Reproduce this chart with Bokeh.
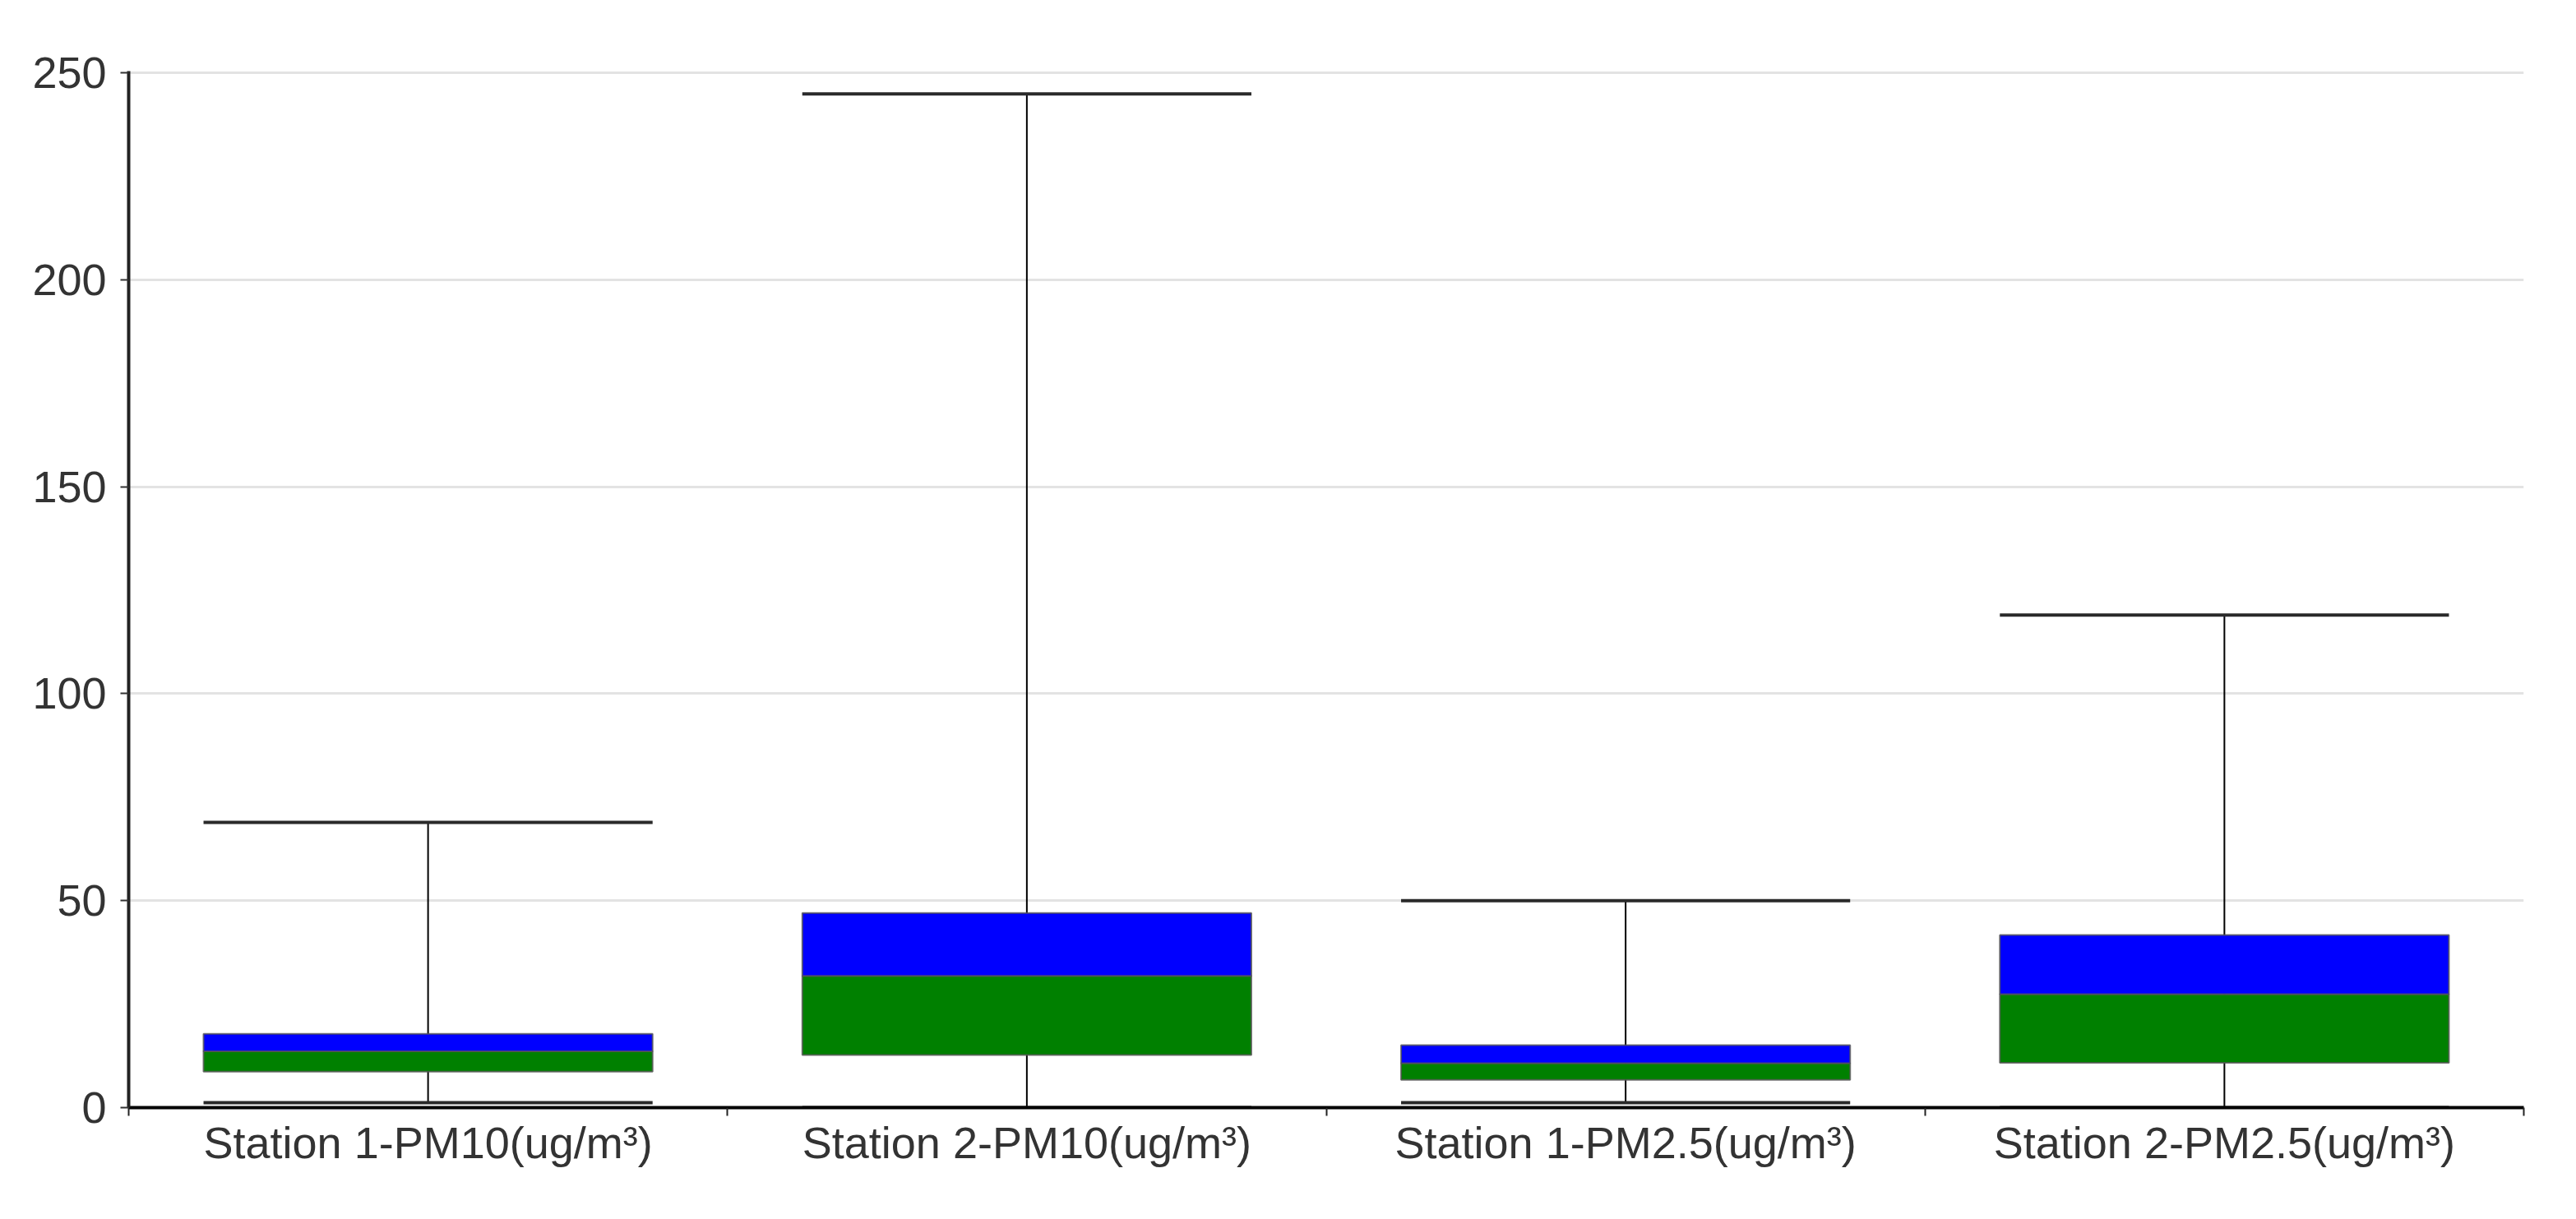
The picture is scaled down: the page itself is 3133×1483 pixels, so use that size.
import numpy as np
from bokeh.plotting import figure
from bokeh.models import Range1d, FixedTicker, ColumnDataSource
from bokeh.embed import file_html
from bokeh.resources import INLINE

categories = ["Station 1-PM10(ug/m³)", "Station 2-PM10(ug/m³)",
              "Station 1-PM2.5(ug/m³)", "Station 2-PM2.5(ug/m³)"]
lower = [1.2, 0.0, 1.2, 0.0]
q1 = [8.7, 12.7, 6.7, 10.8]
median = [13.6, 31.8, 10.7, 27.4]
q3 = [17.8, 47.0, 15.1, 41.7]
upper = [68.9, 244.9, 50.0, 119.0]
y_ticks = [0, 50, 100, 150, 200, 250]

n = len(categories)
xc = np.arange(n) + 0.5
box_w = 0.75

src = ColumnDataSource(dict(
    x=xc, left=xc - box_w / 2, right=xc + box_w / 2,
    lower=lower, q1=q1, median=median, q3=q3, upper=upper,
))

p = figure(width=3117, height=1467, output_backend="svg", toolbar_location=None,
           x_range=Range1d(0, n), y_range=Range1d(0, 250.4),
           min_border_left=156, min_border_right=48, min_border_top=86, min_border_bottom=120)
p.outline_line_color = None
p.background_fill_color = "white"
p.border_fill_color = "white"

# grid
p.xgrid.grid_line_color = None
p.ygrid.grid_line_color = "#e3e3e3"
p.ygrid.grid_line_width = 3
p.ygrid.ticker = FixedTicker(ticks=y_ticks)

# y axis
p.yaxis.ticker = FixedTicker(ticks=y_ticks)
p.yaxis.axis_line_color = "#222222"
p.yaxis.axis_line_width = 4
p.yaxis.major_tick_out = 10
p.yaxis.major_tick_in = 0
p.yaxis.major_tick_line_color = "#333333"
p.yaxis.major_tick_line_width = 2
p.yaxis.minor_tick_line_color = None
p.yaxis.major_label_standoff = 17
p.yaxis.major_label_text_font = "Liberation Sans"
p.yaxis.major_label_text_font_size = "54px"
p.yaxis.major_label_text_color = "#333333"

# x axis: labels at centers, tick marks at category boundaries
p.xaxis.ticker = FixedTicker(ticks=list(xc), minor_ticks=list(range(n + 1)))
p.xaxis.major_label_overrides = {float(x): c for x, c in zip(xc, categories)}
p.xaxis.axis_line_color = "black"
p.xaxis.axis_line_width = 4
p.xaxis.major_tick_out = 0
p.xaxis.major_tick_in = 0
p.xaxis.major_tick_line_color = None
p.xaxis.minor_tick_out = 10
p.xaxis.minor_tick_in = 0
p.xaxis.minor_tick_line_color = "#222222"
p.xaxis.minor_tick_line_width = 2
p.xaxis.major_label_standoff = 2
p.xaxis.major_label_text_font = "Liberation Sans"
p.xaxis.major_label_text_font_size = "54px"
p.xaxis.major_label_text_color = "#333333"

# whisker stem
p.segment(x0="x", x1="x", y0="lower", y1="upper", source=src,
          line_color="black", line_width=2)
# boxes
p.vbar(x="x", width=box_w, bottom="q1", top="median", source=src,
       fill_color="#008000", line_color="#555555", line_alpha=0.8, line_width=2)
p.vbar(x="x", width=box_w, bottom="median", top="q3", source=src,
       fill_color="#0000ff", line_color="#555555", line_alpha=0.8, line_width=2)
# whisker caps
p.segment(x0="left", x1="right", y0="upper", y1="upper", source=src,
          line_color="#2a2a2a", line_width=4)
p.segment(x0="left", x1="right", y0="lower", y1="lower", source=src,
          line_color="#2a2a2a", line_width=4)

open("out.html", "w").write(file_html(p, INLINE))
